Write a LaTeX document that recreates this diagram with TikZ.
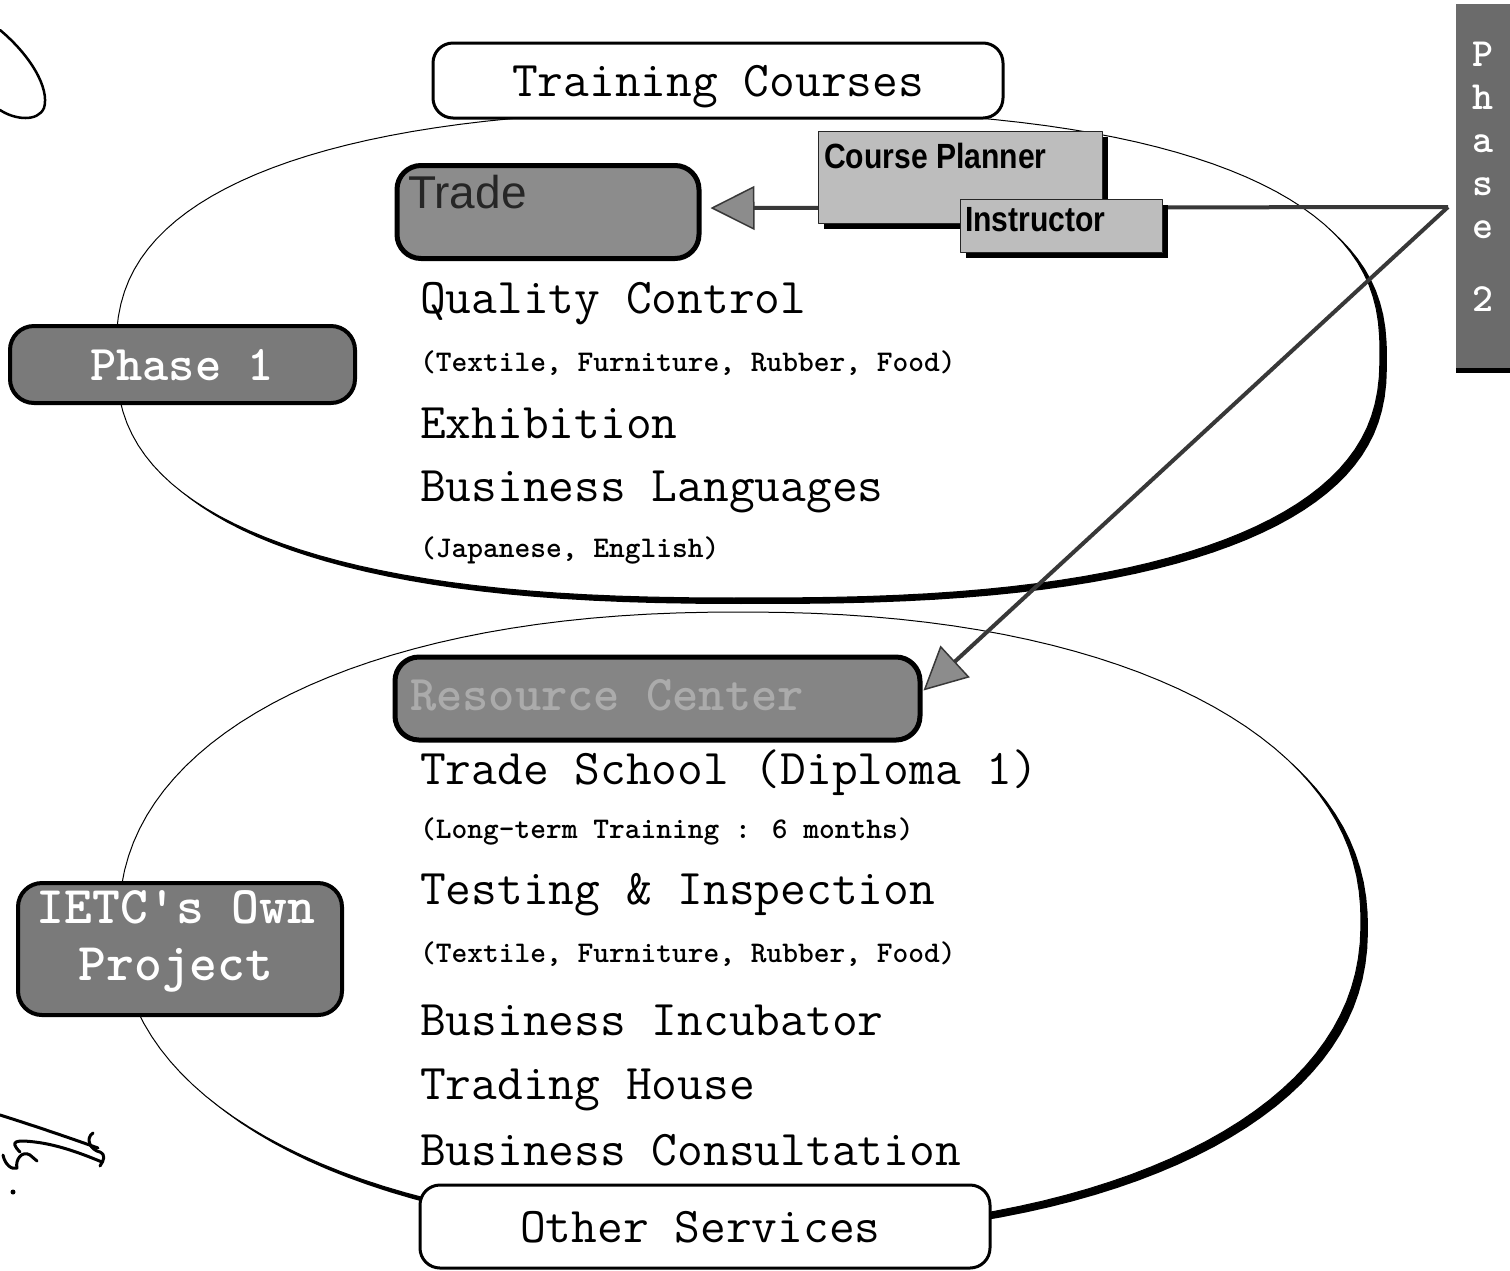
\documentclass[tikz,border=0pt]{standalone}
\usepackage{fontspec}
\newfontfamily\sansf{Liberation Sans}
\newfontfamily\narrowsf{Liberation Sans}[FakeStretch=0.86]
\usetikzlibrary{arrows.meta,shadows}

\begin{document}
\begin{tikzpicture}[x=1pt,y=-1pt,
  line join=round,
  bigtxt/.style={font=\ttfamily\fontsize{50}{56}\selectfont, inner sep=0pt},
  smalltxt/.style={font=\ttfamily\bfseries\fontsize{30}{34}\selectfont, inner sep=0pt},
  item/.style={bigtxt, anchor=base west},
  subitem/.style={smalltxt, anchor=base west},
  whitebox/.style={draw=black, line width=3pt, rounded corners=20pt, fill=white, bigtxt},
  darkbox/.style={draw=black, line width=5pt, rounded corners=24pt, fill=black!50, inner sep=0pt},
  darktxt/.style={font=\ttfamily\bfseries\fontsize{50}{56}\selectfont, text=white, inner sep=0pt},
  notebox/.style={draw=black!85, line width=1pt, fill=black!26, inner sep=0pt,
    drop shadow={shadow xshift=5pt, shadow yshift=-5pt, fill=black, opacity=1}},
  notetxt/.style={font=\narrowsf\bfseries\fontsize{35}{38}\selectfont, inner sep=0pt, anchor=base west},
  link/.style={draw=black!78, line width=4pt},
  headtip/.style={-{Triangle[length=#1, width=#1, fill=black!45, line width=1.5pt]}},
  scribble/.style={line width=3pt, line cap=round, line join=round},
]
\path[use as bounding box, fill=white] (0,0) rectangle (1510,1270);

% upper oval: heavy edge towards lower right
\fill[black, shift={(7,6)}] plot[domain=0.5:360.5, samples=145, variable=\t]
  ({748+632*cos(\t)*abs(cos(\t))^(-0.2)}, {354+244*sin(\t)*abs(sin(\t))^(-0.2)}) -- cycle;
\filldraw[fill=white, draw=black, line width=1pt] plot[domain=0.5:360.5, samples=145, variable=\t]
  ({748+632*cos(\t)*abs(cos(\t))^(-0.2)}, {354+244*sin(\t)*abs(sin(\t))^(-0.2)}) -- cycle;

% lower oval
\fill[black, shift={(7,6)}] plot[domain=0.5:360.5, samples=145, variable=\t]
  ({740+621*cos(\t)*abs(cos(\t))^(-0.09)}, {922+310*sin(\t)*abs(sin(\t))^(-0.09)}) -- cycle;
\filldraw[fill=white, draw=black, line width=1pt] plot[domain=0.5:360.5, samples=145, variable=\t]
  ({740+621*cos(\t)*abs(cos(\t))^(-0.09)}, {922+310*sin(\t)*abs(sin(\t))^(-0.09)}) -- cycle;

% handwritten marks
\draw[scribble, line width=2.5pt] (0,30) .. controls (30,55) and (50,88) .. (44,108) .. controls (38,122) and (15,120) .. (0,110);
\draw[scribble] (0,1115) .. controls (35,1126) and (70,1138) .. (98,1148);
\draw[scribble] (20,1152) .. controls (8,1140) and (18,1140) .. (35,1142) .. controls (60,1145) and (85,1155) .. (102,1162);
\draw[scribble] (3,1155) .. controls (5,1165) and (12,1170) .. (17,1168) .. controls (15,1160) and (22,1150) .. (30,1155) -- (37,1161);
\draw[scribble] (93,1133) .. controls (85,1138) and (90,1150) .. (100,1152) .. controls (106,1155) and (104,1160) .. (100,1166);
\fill (13,1192) circle (2.5);

% items of the upper oval
\node[item] (qc) at (420,313) {Quality Control};
\node[subitem] (qcsub) at (420,371) {(Textile, Furniture, Rubber, Food)};
\node[item] (exh) at (420,438) {Exhibition};
\node[item] (bl) at (420,501) {Business Languages};
\node[subitem] (blsub) at (420,557) {(Japanese, English)};

% items of the lower oval
\node[item] (ts) at (420,784) {Trade School (Diploma 1)};
\node[subitem] (tssub) at (420,838) {(Long-term Training : 6 months)};
\node[item] (ti) at (420,904) {Testing \& Inspection};
\node[subitem] (tisub) at (420,962) {(Textile, Furniture, Rubber, Food)};
\node[item] (bi) at (420,1035) {Business Incubator};
\node[item] (th) at (420,1099) {Trading House};
\node[item] (bc) at (420,1165) {Business Consultation};

% title boxes
\node[whitebox, minimum width=570pt, minimum height=75pt] (tc) at (718,80.5) {};
\node[item] (tctxt) at (512,96) {Training Courses};
\node[whitebox, minimum width=570pt, minimum height=83pt] (os) at (705,1226.5) {};
\node[item] (ostxt) at (520,1242) {Other Services};

% dark boxes
\node[darkbox, fill=black!45, minimum width=302pt, minimum height=93pt] (trade) at (548,212) {};
\node[font=\sansf\fontsize{46}{50}\selectfont, text=black!85, anchor=base west, inner sep=0pt] (tradetxt) at (408,208) {Trade};

\node[darkbox, line width=4pt, fill=black!52, minimum width=345pt, minimum height=77pt] (ph1) at (182.5,364.5) {};
\node[darktxt] (ph1txt) at (182,365) {Phase 1};

\node[darkbox, fill=black!48, minimum width=525pt, minimum height=83pt] (rc) at (657.5,698.5) {};
\node[darktxt, text=black!33, anchor=base west] (rctxt) at (410,710) {Resource Center};

\node[darkbox, line width=4pt, fill=black!52, minimum width=324pt, minimum height=132pt] (ietc) at (180,949) {};
\node[darktxt, font=\ttfamily\bfseries\fontsize{53}{57}\selectfont, align=center] (ietctxt) at (176,941) {IETC\textquotesingle s Own\\Project};

% vertical phase 2 tab
\node[fill=black!58, minimum width=56pt, minimum height=364pt, inner sep=0pt, anchor=north west,
  drop shadow={shadow xshift=0pt, shadow yshift=-5pt, fill=black, opacity=1}] (ph2) at (1456,4) {};
\node[text=white, font=\ttfamily\bfseries\fontsize{40}{43}\selectfont, align=center, anchor=north, inner sep=0pt] (ph2txt) at (1483,42) {P\\h\\a\\s\\e\\[30pt]2};

% connectors out of phase 2
\coordinate (p2c) at (1448,207);
\draw[link, headtip=44pt] (p2c) -- ([shift={(9,-4)}]trade.east);
\draw[link, headtip=43pt] (p2c) -- ([shift={(1,-8)}]rc.east);

% role notes
\node[notebox, minimum width=284pt, minimum height=92pt, anchor=north west] (cp) at (818,131) {};
\node[notetxt] (cptxt) at (824,168) {Course Planner};
\node[notebox, minimum width=202pt, minimum height=53pt, anchor=north west] (instr) at (960,199) {};
\node[notetxt] (instrtxt) at (965,231) {Instructor};
\end{tikzpicture}
\end{document}
